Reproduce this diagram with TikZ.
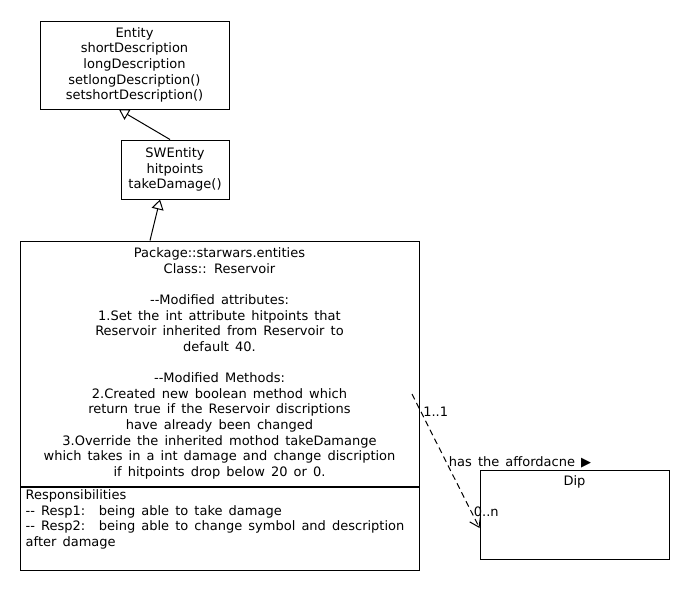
\documentclass[tikz,border=0pt]{standalone}
\usepackage{fontspec}
\setmainfont{DejaVu Sans}
\usetikzlibrary{arrows.meta,positioning}
\definecolor{ink}{HTML}{000000}
\tikzset{
  every node/.style={font={\fontsize{13}{15.6}\selectfont\spaceskip=0.47em\relax}, text=ink},
  classbox/.style={draw=ink, line width=1pt, align=center, inner sep=0pt},
  txt/.style={align=center, inner sep=0pt},
  resptxt/.style={align=left, inner sep=0pt},
  inh/.style={-{Triangle[open, length=10pt, width=12pt]}, line width=1pt, draw=ink},
  assoc/.style={-{Straight Barb[length=9pt, width=12pt]}, line width=1pt, draw=ink,
                dash pattern=on 6pt off 4pt},
  lbl/.style={anchor=west, inner sep=2pt},
}

\begin{document}
\begin{tikzpicture}[x=1pt, y=-1pt]
\useasboundingbox (0,0) rectangle (690,590);

\node[classbox, minimum width=189pt, minimum height=88pt] (entity) at (134.5,65)
  {Entity\\ shortDescription\\ longDescription\\ setlongDescription()\\ setshortDescription()};
\node[classbox, minimum width=108pt, minimum height=59pt] (swentity) at (175,169.5)
  {SWEntity\\ hitpoints\\ takeDamage()};

% reservoir class, two compartments
\node[classbox, minimum width=399pt, minimum height=245pt] (reservoir) at (219.5,363.5)
  {Package::starwars.entities\\ Class:: Reservoir\\ \mbox{}\\
   -{}-Modified attributes:\\ 1.Set the int attribute hitpoints that\\
   Reservoir inherited from Reservoir to\\ default 40.\\ \mbox{}\\
   -{}-Modified Methods:\\ 2.Created new boolean method which\\
   return true if the Reservoir discriptions\\ have already been changed\\
   3.Override the inherited mothod takeDamange\\
   which takes in a int damage and change discription\\
   if hitpoints drop below 20 or 0.};
\node[classbox, minimum width=399pt, minimum height=83pt, below=0pt of reservoir] (resp) {};
\node[resptxt, anchor=north west] (resptext) at ([xshift=6pt, yshift=-3pt]resp.north west)
  {Responsibilities\\ -{}- Resp1:~ being able to take damage\\
   -{}- Resp2:~ being able to change symbol and description\\ after damage};

\node[classbox, minimum width=189pt, minimum height=89pt] (dip) at (574.5,514.5) {};
\node[txt, below=6pt of dip.north] (diptitle) {Dip};

\coordinate (src) at (412,394);

\draw[inh] ([xshift=-5pt]swentity.north) -- ([xshift=-15.5pt]entity.south);
\draw[inh] ([xshift=-69.5pt]reservoir.north) -- ([xshift=-15pt]swentity.south);
\draw[assoc] (src) -- node[lbl, pos=0.13]{1..1}
  node[lbl, pos=0.51]{has the affordacne ▶}
  node[lbl, pos=0.88]{0..n} ([yshift=-13.5pt]dip.west);

\end{tikzpicture}
\end{document}
